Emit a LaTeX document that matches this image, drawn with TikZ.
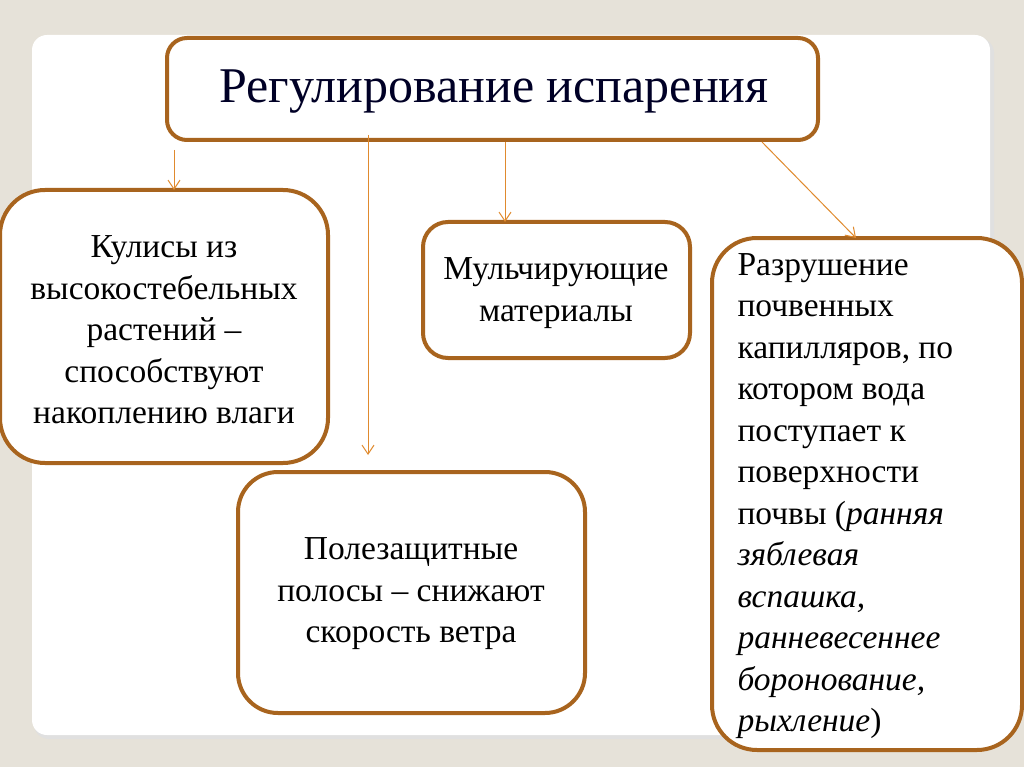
\documentclass[tikz,border=0pt]{standalone}
\usepackage{fontspec}
\setmainfont{Liberation Serif}
\usetikzlibrary{arrows.meta}
\definecolor{bord}{HTML}{A8641E}
\definecolor{arr}{HTML}{E08A2E}
\definecolor{bg}{HTML}{E6E2D9}
\begin{document}
\begin{tikzpicture}[x=1pt,y=-1pt,
  box/.style={draw=bord,line width=4pt,fill=white},
  txt/.style={font=\fontsize{33.5}{41.5}\selectfont,align=center,text=black},
  con/.style={draw=arr,line width=1pt,-{Straight Barb[length=9pt,width=12pt]}}]
\useasboundingbox (0,0) rectangle (1024,767);
\fill[bg] (0,0) rectangle (1024,767);
\fill[black!12] (34,38) [rounded corners=15pt] rectangle (994,739);
\fill[white,rounded corners=15pt] (32,35) rectangle (990,735);
\draw[box,rounded corners=20pt] (167,38) rectangle (818,140);
\node[font=\fontsize{50}{56}\selectfont,text=black!85!blue] (title) at (494,92) {Регулирование испарения};
\draw[box,rounded corners=45pt] (0,190) rectangle (328,463);
\node[txt] (b1) at (164,330) {Кулисы из\\высокостебельных\\растений –\\способствуют\\накоплению влаги};
\draw[box,rounded corners=25pt] (423,222) rectangle (690,358);
\node[txt] (b2) at (556,293) {Мульчирующие\\материалы};
\draw[box,rounded corners=40pt] (238,472) rectangle (585,713);
\node[txt] (b3) at (411,594) {Полезащитные\\полосы – снижают\\скорость ветра};
\draw[box,rounded corners=45pt] (712,238) rectangle (1022,750);
\node[txt,align=left,anchor=north west] (b4) at (734,250) {Разрушение\\почвенных\\капилляров, по\\котором вода\\поступает к\\поверхности\\почвы (\textit{ранняя}\\\textit{зяблевая}\\\textit{вспашка,}\\\textit{ранневесеннее}\\\textit{боронование,}\\\textit{рыхление})};
\coordinate (s1) at (174,150); \coordinate (e1) at (174,190);
\coordinate (s2) at (368,135); \coordinate (e2) at (368,455);
\coordinate (s3) at (505,142); \coordinate (e3) at (505,222);
\coordinate (s4) at (762,142); \coordinate (e4) at (856,238);
\draw[con] (s1) -- (e1);
\draw[con] (s2) -- (e2);
\draw[con] (s3) -- (e3);
\draw[con] (s4) -- (e4);
\end{tikzpicture}
\end{document}
